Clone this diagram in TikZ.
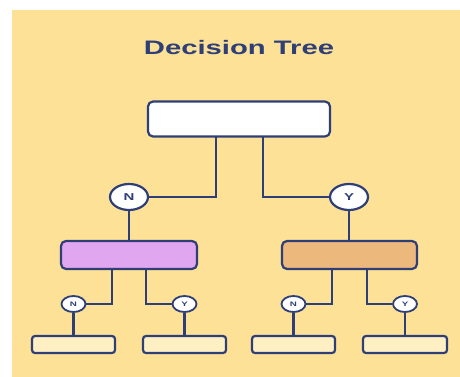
\documentclass[tikz,border=0pt]{standalone}
\usepackage{fontspec}
\usepackage{graphicx}
\setmainfont{Liberation Sans}
\usetikzlibrary{shapes.geometric}
\definecolor{bgy}{HTML}{FDE196}
\definecolor{navy}{HTML}{2E3F78}
\definecolor{purp}{HTML}{E0A6F0}
\definecolor{oran}{HTML}{EDB87C}
\definecolor{leaf}{HTML}{FFF0C4}
\newcommand{\wide}[1]{\scalebox{1.5}[1]{#1}}
\begin{document}
\begin{tikzpicture}[x=1pt,y=-1pt,
  edge/.style={draw=navy,line width=2.2pt},
  boxstyle/.style={draw=navy,line width=2.2pt,rounded corners=5pt,inner sep=0pt},
  bigq/.style={ellipse,draw=navy,line width=2.2pt,fill=white,minimum width=38pt,minimum height=26pt,inner sep=0pt,text=navy,font=\bfseries\fontsize{10}{10}\selectfont},
  smallq/.style={ellipse,draw=navy,line width=1.8pt,fill=white,minimum width=24pt,minimum height=16pt,inner sep=0pt,text=navy,font=\bfseries\fontsize{6.5}{6.5}\selectfont}]
\useasboundingbox (0,0) rectangle (460,377);
\fill[white] (0,0) rectangle (460,377);
\fill[bgy] (12,10) rectangle (460,377);
\node[text=navy,font=\bfseries\fontsize{19.5}{19.5}\selectfont] (title) at (239,48) {\wide{Decision Tree}};
% boxes
\node[boxstyle,fill=white,minimum width=182pt,minimum height=35pt] (root) at (239,119) {};
\node[boxstyle,fill=purp,minimum width=136pt,minimum height=28pt] (lb) at (129,255) {};
\node[boxstyle,fill=oran,minimum width=135pt,minimum height=28pt] (rb) at (349.5,255) {};
\node[boxstyle,fill=leaf,minimum width=83pt,minimum height=17pt,rounded corners=3pt] (l1) at (73.5,344.5) {};
\node[boxstyle,fill=leaf,minimum width=83pt,minimum height=17pt,rounded corners=3pt] (l2) at (184.5,344.5) {};
\node[boxstyle,fill=leaf,minimum width=83pt,minimum height=17pt,rounded corners=3pt] (l3) at (293.5,344.5) {};
\node[boxstyle,fill=leaf,minimum width=84pt,minimum height=17pt,rounded corners=3pt] (l4) at (405,344.5) {};
% coordinates
\coordinate (ra) at (216,137);
\coordinate (rb1) at (263,137);
\coordinate (pa) at (112,269);
\coordinate (pb) at (146,269);
\coordinate (oa) at (332,269);
\coordinate (ob) at (367,269);
% decision ellipses
\node[bigq] (n1) at (129,197) {\wide{N}};
\node[bigq] (y1) at (349,197) {\wide{Y}};
\node[smallq] (n2) at (73.5,304) {\wide{N}};
\node[smallq] (y2) at (184.5,304) {\wide{Y}};
\node[smallq] (n3) at (293.5,304) {\wide{N}};
\node[smallq] (y3) at (405,304) {\wide{Y}};
% connectors
\draw[edge] (ra) |- (n1.east);
\draw[edge] (rb1) |- (y1.west);
\draw[edge] (n1.south) -- (n1.south |- lb.north);
\draw[edge] (y1.south) -- (y1.south |- rb.north);
\draw[edge] (pa) |- (n2.east);
\draw[edge] (pb) |- (y2.west);
\draw[edge] (oa) |- (n3.east);
\draw[edge] (ob) |- (y3.west);
\draw[edge] (n2.south) -- (n2.south |- l1.north);
\draw[edge] (y2.south) -- (y2.south |- l2.north);
\draw[edge] (n3.south) -- (n3.south |- l3.north);
\draw[edge] (y3.south) -- (y3.south |- l4.north);
\end{tikzpicture}
\end{document}
